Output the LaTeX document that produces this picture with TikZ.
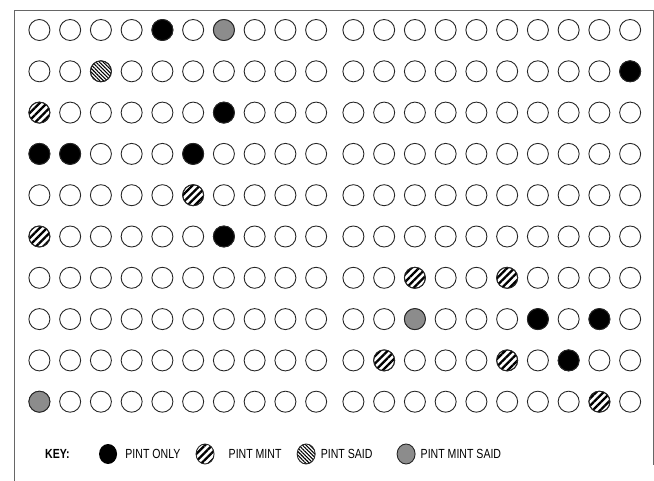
\documentclass[tikz,border=0pt]{standalone}
\usepackage{fontspec}
\setmainfont{Liberation Sans}
\newfontfamily\keyfont[FakeStretch=0.8]{Liberation Sans}
\usepackage{tikz}
\usetikzlibrary{positioning, shapes.geometric, patterns.meta}

\begin{document}
\begin{tikzpicture}[
        x=1pt, y=-1pt,
        hole/.style={draw=black!85, line width=0.9pt, circle, inner sep=0pt, minimum size=21pt, fill=white},
        only/.style={hole, fill=black},
        mint/.style={hole, pattern={Lines[angle=45, distance=5.2pt, line width=2.3pt]}},
        said/.style={hole, pattern={Lines[angle=-45, distance=2.6pt, line width=1.1pt]}},
        both/.style={hole, fill=black!45},
        keyblob/.style={ellipse, inner sep=0pt, minimum width=18pt, minimum height=20pt},
        keytext/.style={inner sep=0pt, font=\keyfont\fontsize{13.2}{15}\selectfont}
    ]
    \useasboundingbox (0,0) rectangle (654,481);

    % frame
    \draw[black!60, line width=0.8pt] (14,481) -- (14,10) -- (653,10) -- (653,465);

    % grid of holes
    \foreach \r in {1,...,10} {
        \foreach \c in {1,...,20} {
            \pgfmathsetmacro\xx{\c<11 ? 39.4+(\c-1)*30.75 : 353.4+(\c-11)*30.75}
            \pgfmathsetmacro\yy{30+(\r-1)*41.3}
            \node[hole] (cell-\r-\c) at (\xx,\yy) {};
        }
    }

    % marked holes
    \foreach \r/\c/\s in {1/5/only, 1/7/both, 2/3/said, 2/20/only, 3/1/mint, 3/7/only,
                          4/1/only, 4/2/only, 4/6/only, 5/6/mint, 6/1/mint, 6/7/only,
                          7/13/mint, 7/16/mint, 8/13/both, 8/17/only, 8/19/only,
                          9/12/mint, 9/16/mint, 9/18/only, 10/1/both, 10/19/mint}
        \node[\s] (mark-\r-\c) at (cell-\r-\c) {};

    % key
    \node[keytext, anchor=west, font=\keyfont\fontsize{13.2}{15}\selectfont\bfseries] (key) at (45,454) {KEY:};
    \node[keyblob, fill=black, right=29pt of key] (k-only) {};
    \node[keytext, right=8pt of k-only] (t-only) {PINT ONLY};
    \node[keyblob, draw=black!85, line width=0.9pt, pattern={Lines[angle=45, distance=5.2pt, line width=2.3pt]}, right=15pt of t-only] (k-mint) {};
    \node[keytext, right=14pt of k-mint] (t-mint) {PINT MINT};
    \node[keyblob, draw=black!85, line width=0.9pt, pattern={Lines[angle=-45, distance=2.6pt, line width=1.1pt]}, right=15pt of t-mint] (k-said) {};
    \node[keytext, right=5pt of k-said] (t-said) {PINT SAID};
    \node[keyblob, draw=black!85, line width=0.9pt, fill=black!45, right=24pt of t-said] (k-both) {};
    \node[keytext, right=5pt of k-both] (t-both) {PINT MINT SAID};

\end{tikzpicture}
\end{document}
